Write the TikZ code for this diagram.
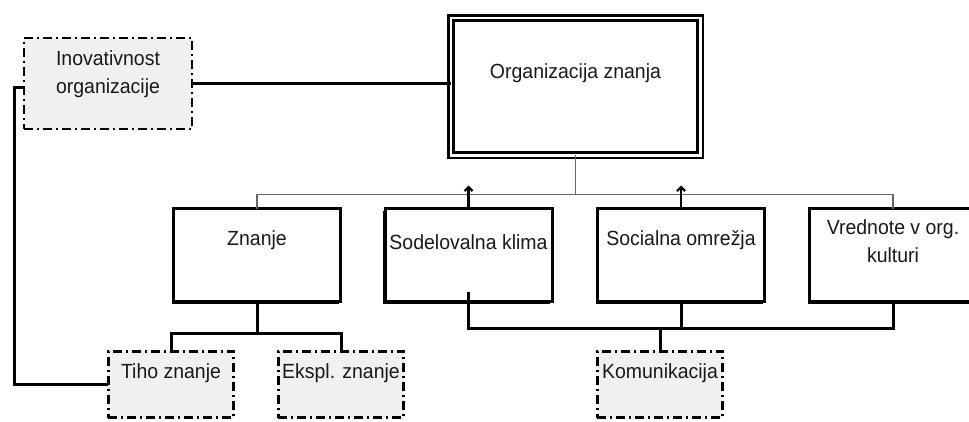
\documentclass[tikz,border=0pt]{standalone}
\usepackage{fontspec}
\setmainfont[FakeStretch=0.95]{Liberation Sans}
\usetikzlibrary{shadows,arrows.meta}
\begin{document}
\begin{tikzpicture}[x=1pt,y=-1pt,
  every node/.style={font=\fontsize{20.5}{28}\selectfont, text=black!90},
  solidbox/.style={draw=black, line width=3pt, fill=white, inner sep=0pt, outer sep=0pt,
    minimum width=167pt, minimum height=93pt,
    drop shadow={shadow xshift=-2pt, shadow yshift=-2pt, fill=black, opacity=1}},
  dashbox/.style={draw=black, line width=2.8pt, fill=black!6, inner sep=0pt, outer sep=0pt,
    dash pattern=on 9pt off 4pt on 2pt off 4pt},
  smallbox/.style={dashbox, minimum width=125.5pt, minimum height=66.5pt},
  bus/.style={draw=black!60, line width=1.5pt},
  link/.style={draw=black, line width=3pt},
  uplink/.style={draw=black, line width=2.2pt, -{Straight Barb[length=4pt,width=8pt]}}
]
\useasboundingbox (0,0) rectangle (969,421);

% top
\node[draw=black, line width=2.6pt, double=white, double distance=2.5pt,
      minimum width=249.5pt, minimum height=137.5pt, inner sep=0pt, outer sep=0pt,
      label={[yshift=13pt]center:Organizacija znanja}] (org) at (575.5,86.5) {};
\node[dashbox, minimum width=168pt, minimum height=91pt,
      label={[align=center,yshift=9pt]center:Inovativnost\\organizacije}] (inov) at (108,83.5) {};

% middle row
\node[solidbox, label={[yshift=15pt]center:Znanje}] (znanje) at (257,255) {};
\node[solidbox, label={[yshift=13pt]center:Sodelovalna klima}] (sod) at (468.5,255) {};
\node[solidbox, label={[yshift=15pt]center:Socialna omrežja}] (soc) at (681,255) {};
\node[solidbox, label={[align=center,yshift=14pt]center:Vrednote v org.\\kulturi}] (vred) at (893,255) {};

% bottom row
\node[smallbox, label={[yshift=11.5pt]center:Tiho znanje}] (tiho) at (171,384.5) {};
\node[smallbox, label={[yshift=11.5pt]center:Ekspl. znanje}] (ekspl) at (341,384.5) {};
\node[smallbox, label={[yshift=11.5pt]center:Komunikacija}] (kom) at (660,384.5) {};

% connectors top
\coordinate (bus) at ([yshift=14pt]znanje.north);
\draw[bus] (znanje.north) -- (bus) -| (vred.north);
\draw[bus] (org.south) -- (org.south |- bus);
\draw[uplink] (sod.north) -- (sod.north |- bus) -- ++(0,-9);
\draw[uplink] (soc.north) -- (soc.north |- bus) -- ++(0,-9);

\draw[link, line width=2.4pt] (inov.east) -- (inov.east -| org.west);
\draw[link] ([yshift=-3.5pt]inov.west) -- ++(-10,0) |- (tiho.west);

% connectors bottom
\draw[link] (znanje.south) -- ++(0,32) coordinate (zsplit);
\draw[link] (tiho.north) |- (zsplit) -| (ekspl.north);

\coordinate (lowbus) at ([yshift=-27pt]soc.south);
\draw[link] ([yshift=10pt]sod.south) |- (lowbus) -| (vred.south);
\draw[link] (soc.south) -- (lowbus);
\draw[link] (kom.north) -- (kom.north |- lowbus);
\end{tikzpicture}
\end{document}
